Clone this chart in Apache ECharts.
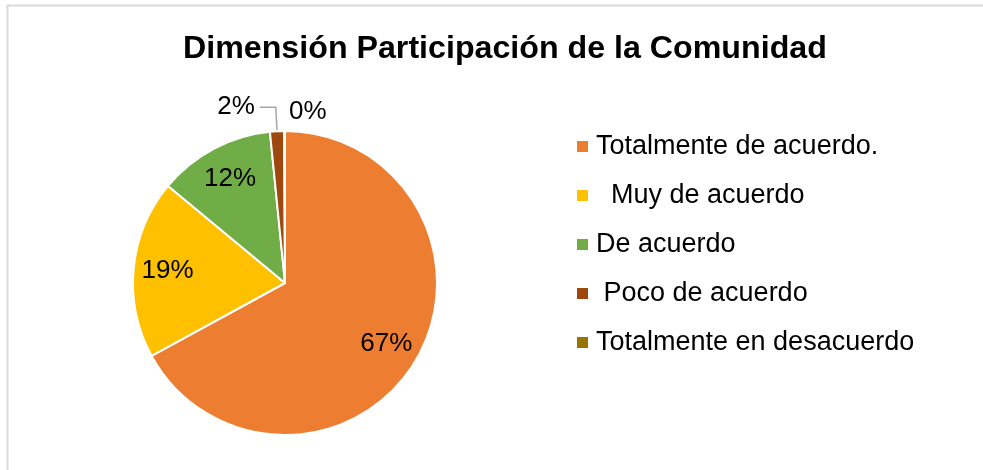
<!DOCTYPE html>
<html>
<head>
<meta charset="utf-8">
<script src="https://cdn.jsdelivr.net/npm/echarts@6/dist/echarts.min.js"></script>
<style>
html,body{margin:0;padding:0;background:#fff;}
#chart{width:983px;height:470px;}
</style>
</head>
<body>
<div id="chart"></div>
<script>
const titleText = 'Dimensión Participación de la Comunidad';
const categories = ['Totalmente de acuerdo.', '  Muy de acuerdo', 'De acuerdo', ' Poco de acuerdo', 'Totalmente en desacuerdo'];
const values = [67.1, 19, 12.4, 1.5, 0];
const palette = ['#ED7D31', '#FFC000', '#70AD47', '#9E480E', '#997300'];
const outsideLabelIdx = [3, 4];
const zeroIdx = 4;

const FONT = 'Liberation Sans, Arial, sans-serif';
const fmt = p => Math.round(p.percent) + '%';

const mainData = categories.map((name, i) => {
  const item = { name: name, value: values[i], itemStyle: { color: palette[i] } };
  if (outsideLabelIdx.indexOf(i) >= 0) {
    item.label = { show: true, position: 'outside' };
    item.labelLine = i !== zeroIdx
      ? { show: true, length: 24, length2: 16, lineStyle: { color: '#a6a6a6', width: 1.5 } }
      : { show: false };
  } else {
    item.label = { show: false };
    item.labelLine = { show: false };
  }
  return item;
});

const overlayData = categories.map((name, i) => ({
  name: name,
  value: values[i],
  label: { show: outsideLabelIdx.indexOf(i) < 0 }
}));

const chart = echarts.init(document.getElementById('chart'), null, { renderer: 'canvas' });
chart.setOption({
  animation: false,
  backgroundColor: '#fff',
  title: {
    text: titleText,
    left: 178,
    top: 28,
    textStyle: { fontFamily: FONT, fontSize: 32.2, fontWeight: 'bold', color: '#000' }
  },
  legend: {
    orient: 'vertical',
    left: 575,
    top: 133,
    padding: 0,
    itemWidth: 13,
    itemHeight: 13,
    itemGap: 22,
    icon: 'rect',
    data: categories,
    textStyle: { fontFamily: FONT, fontSize: 27, color: '#000', padding: [0, 0, 0, 2] },
    selectedMode: false
  },
  graphic: [{
    type: 'rect',
    shape: { x: 7.5, y: 5.5, width: 1000, height: 500 },
    style: { fill: 'none', stroke: '#d9d9d9', lineWidth: 2 },
    silent: true
  }],
  series: [
    {
      type: 'pie',
      center: [285, 283],
      radius: [0, 152],
      startAngle: 90,
      clockwise: true,
      minAngle: 0.3,
      avoidLabelOverlap: false,
      itemStyle: { borderColor: '#fff', borderWidth: 2 },
      label: { fontFamily: FONT, fontSize: 26, color: '#000', formatter: fmt },
      emphasis: { disabled: true },
      labelLayout: function (params) {
        if (params.dataIndex === zeroIdx) {
          return {
            x: params.rect.x + params.rect.width + 3,
            y: params.rect.y - 18,
            align: 'left',
            verticalAlign: 'middle'
          };
        }
        return {};
      },
      data: mainData
    },
    {
      type: 'pie',
      center: [285, 283],
      radius: [78, 152],
      startAngle: 90,
      clockwise: true,
      silent: true,
      itemStyle: { color: 'rgba(0,0,0,0)', borderWidth: 0 },
      label: { position: 'inside', fontFamily: FONT, fontSize: 26, color: '#000', formatter: fmt },
      labelLine: { show: false },
      emphasis: { disabled: true },
      data: overlayData
    }
  ]
});
</script>
</body>
</html>
